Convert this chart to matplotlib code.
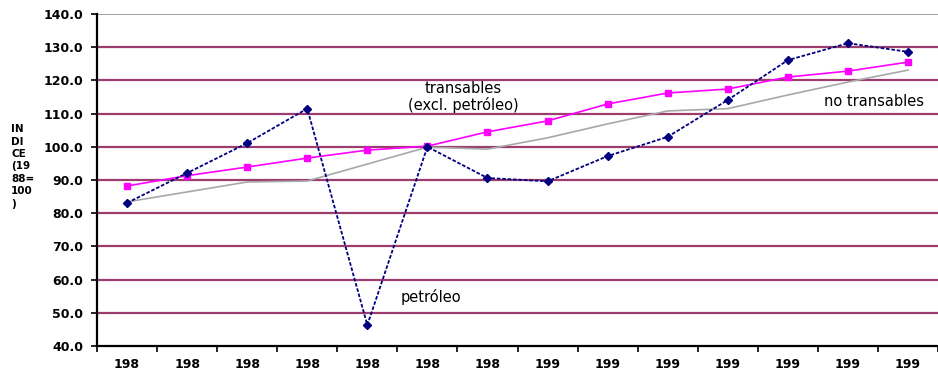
import matplotlib.pyplot as plt
import numpy as np

# indices by year, 1988 = 100
years = ["198"] * 7 + ["199"] * 7
petroleo = [83.1, 92.1, 101.1, 111.5, 46.3, 100.0, 90.6, 89.6, 97.2, 103.0, 114.1, 126.1, 131.2, 128.6]
transables = [88.2, 91.3, 93.9, 96.6, 99.0, 100.2, 104.5, 107.8, 112.9, 116.2, 117.4, 121.0, 122.8, 125.5]
no_transables = [83.4, 86.4, 89.4, 89.7, 94.8, 99.9, 99.3, 102.7, 106.9, 110.8, 111.5, 115.6, 119.5, 123.1]
y_ticks = [40, 50, 60, 70, 80, 90, 100, 110, 120, 130, 140]

fig = plt.figure(figsize=(9.38, 3.78), dpi=100)
ax = fig.add_axes([97 / 938, 32 / 378, 841 / 938, 332 / 378])

x = np.arange(len(years))

# horizontal grid
for v in y_ticks[1:-1]:
    ax.axhline(v, color="#9c3d6e", lw=1.6, zorder=1)
ax.axhline(140, color="#a0a0a0", lw=1.4, zorder=1)

ax.plot(x, no_transables, color="#a8a8a8", lw=1.2, zorder=2)
ax.plot(x, transables, color="#ff00ff", lw=1.2, marker="s", ms=5, zorder=3)
ax.plot(x, petroleo, color="#000080", lw=1.3, ls=(0, (2, 1)), marker="D", ms=4.5, zorder=4)

ax.set_xlim(-0.5, 13.5)
ax.set_ylim(40, 140)
ax.set_yticks(y_ticks)
ax.set_yticklabels([f"{v:.1f}" for v in y_ticks], fontsize=9, fontweight="bold")
ax.set_xticks(x)
ax.set_xticklabels(years, fontsize=9, fontweight="bold")
ax.set_xticks(np.arange(-0.5, 14, 1), minor=True)
ax.tick_params(axis="x", which="major", length=0, pad=9)
ax.tick_params(axis="x", which="minor", length=4, width=1.2, direction="out")
ax.tick_params(axis="y", length=4, width=1.2, direction="out", pad=6)

for side in ["top", "right"]:
    ax.spines[side].set_visible(False)
for side in ["left", "bottom"]:
    ax.spines[side].set_linewidth(1.6)

fig.text(0.012, 0.56, "IN\nDI\nCE\n(19\n88=\n100\n)", fontsize=7.5, fontweight="bold",
         va="center", ha="left", linespacing=1.3)

ax.text(5.6, 115.0, "transables\n(excl. petróleo)", fontsize=10.5, ha="center", va="center",
        linespacing=1.15)
ax.text(4.55, 54.8, "petróleo", fontsize=10.5, ha="left", va="center")
ax.text(11.6, 113.7, "no transables", fontsize=10.5, ha="left", va="center")

fig.savefig("out.png", dpi=100)
